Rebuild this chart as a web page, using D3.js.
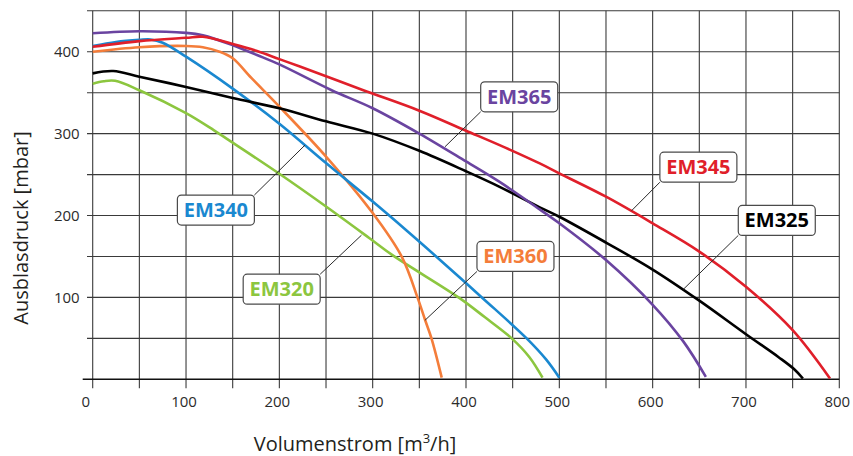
<!DOCTYPE html>
<html><head><meta charset="utf-8">
<script src="https://cdn.jsdelivr.net/npm/d3@7"></script>
<style>
html,body{margin:0;padding:0;background:#fff;}
svg{display:block;font-family:"Open Sans",sans-serif;}
</style></head>
<body><svg id="chart" width="853" height="456"></svg>
<script>
// ---- data ----
const xTicks = [0, 100, 200, 300, 400, 500, 600, 700, 800];
const yTicks = [100, 200, 300, 400];
const seriesNames = ["EM320", "EM360", "EM340", "EM325", "EM365", "EM345"];

const em320 = [[0,361],[12,364],[24,364.5],[50,353],[100,325],[130,304],[150,289],[200,251],[250,211],[297,172],[322,151],[392,100],[420,76],[449,50],[468,27],[482,2]];
const em360 = [[0,400],[50,405.5],[100,407],[118,405.5],[136,400],[150,392],[170,368],[200,333],[250,272],[300,203],[331,150],[348,100],[356,73],[363,50],[374,2]];
const em340 = [[0,407],[25,412],[50,414.5],[62,415],[75,411],[100,394],[150,355],[200,312],[250,264],[300,217],[336,182],[368,150],[417,100],[465,50],[486,24],[500,2]];
const em325 = [[0,373.6],[22,376.4],[50,369.5],[100,357],[150,343.5],[200,331],[250,315],[300,300],[350,279],[400,254],[436,235],[479,210],[500,198.5],[550,167],[600,134],[650,96],[700,55],[735,27],[752,12],[761,1]];
const em365 = [[0,422.5],[50,425],[100,423],[118,420],[150,408],[176,396],[200,384.5],[256,353],[300,331],[350,300],[400,266],[436,241],[479,207.5],[500,190.5],[550,145.6],[600,91],[633,46],[657,3]];
const em345 = [[0,406],[50,413],[100,417],[118,418.3],[150,409.5],[176,401],[200,391],[222,382],[290,353],[350,328],[400,303.6],[436,286],[479,263.6],[500,251.5],[550,223],[600,190.5],[650,156],[700,113],[750,60],[790,1]];

const seriesData = {EM320: em320, EM360: em360, EM340: em340, EM325: em325, EM365: em365, EM345: em345};

// ---- styles & layout ----
const colors = {EM320:"#8cc63f", EM360:"#f47d3a", EM340:"#1a88d0", EM325:"#000000", EM365:"#6a44a0", EM345:"#e01f2a"};
// label boxes: centre and leader target in data units, leader corner of box
const labelLayout = [
  {name:"EM345", cx:649, cy:259, tx:577.5, ty:206, corner:"bl"},
  {name:"EM325", cx:733, cy:194, tx:633, ty:110, corner:"bl"},
  {name:"EM365", cx:457, cy:345, tx:377.5, ty:284, corner:"bl"},
  {name:"EM340", cx:132, cy:206.7, tx:227.5, ty:286, corner:"tr"},
  {name:"EM320", cx:202.5, cy:110, tx:288, ty:176, corner:"tr"},
  {name:"EM360", cx:453, cy:150, tx:356, ty:72, corner:"bl"}
];

const W = 853, H = 456;
const m = {left:92.7, right:13.7, top:10.8, bottom:76.7};
const svg = d3.select("#chart");
const x = d3.scaleLinear().domain([0,800]).range([m.left, W - m.right]);
const y = d3.scaleLinear().domain([0,450]).range([H - m.bottom, m.top]);

const grid = svg.append("g");
const gridColor = "#3a3a3a";
// vertical grid lines every 50, with tick below the axis
d3.range(0, 801, 50).forEach(v => {
  grid.append("line").attr("x1", x(v)).attr("x2", x(v))
    .attr("y1", y(450)).attr("y2", y(0) + 9)
    .attr("stroke", gridColor).attr("stroke-width", 1.1);
});
// horizontal grid lines every 50, with tick left of the axis
d3.range(50, 451, 50).forEach(v => {
  grid.append("line").attr("x1", x(0) - 5.7).attr("x2", x(800))
    .attr("y1", y(v)).attr("y2", y(v))
    .attr("stroke", gridColor).attr("stroke-width", 1.1);
});
// x axis base line
grid.append("line").attr("x1", x(0) - 10).attr("x2", x(800))
  .attr("y1", y(0)).attr("y2", y(0)).attr("stroke", "#111").attr("stroke-width", 1.4);

// tick labels
svg.append("g").selectAll("text").data(xTicks).join("text")
  .attr("x", d => x(d) - (d === 0 ? 7 : 2)).attr("y", y(0) + 28)
  .attr("text-anchor", "middle").attr("font-size", 15).attr("fill", "#2b2b2b")
  .text(d => d);
svg.append("g").selectAll("text").data(yTicks).join("text")
  .attr("x", x(0) - 13).attr("y", d => y(d) + 5.3)
  .attr("text-anchor", "end").attr("font-size", 15).attr("fill", "#2b2b2b")
  .text(d => d);

// axis titles
const xt = svg.append("text").attr("x", 355).attr("y", 451)
  .attr("text-anchor", "middle").attr("font-size", 20).attr("fill", "#231f20");
xt.append("tspan").text("Volumenstrom [m");
xt.append("tspan").attr("font-size", 13).attr("dy", -8).text("3");
xt.append("tspan").attr("dy", 8).text("/h]");

svg.append("text").attr("transform", "translate(28,228) rotate(-90)")
  .attr("text-anchor", "middle").attr("font-size", 20).attr("fill", "#231f20")
  .text("Ausblasdruck [mbar]");

// curves
const line = d3.line().x(d => x(d[0])).y(d => y(d[1])).curve(d3.curveCatmullRom.alpha(0.5));
svg.append("g").selectAll("path").data(seriesNames).join("path")
  .attr("d", n => line(seriesData[n]))
  .attr("fill", "none").attr("stroke", n => colors[n])
  .attr("stroke-width", 2.6).attr("stroke-linejoin", "round").attr("stroke-linecap", "butt");

// labels
const lg = svg.append("g");
labelLayout.forEach(L => {
  const g = lg.append("g");
  g.append("text").attr("x", x(L.cx)).attr("y", y(L.cy) + 7)
    .attr("text-anchor", "middle").attr("font-size", 20).attr("font-weight", "bold")
    .attr("fill", colors[L.name]).text(L.name);
  const bw = 77, bh = 30;
  const bx = x(L.cx) - bw/2, by = y(L.cy) - bh/2;
  const cxp = L.corner[1] === "l" ? bx : bx + bw;
  const cyp = L.corner[0] === "b" ? by + bh : by;
  g.insert("line", "text").attr("x1", cxp).attr("y1", cyp)
    .attr("x2", x(L.tx)).attr("y2", y(L.ty))
    .attr("stroke", "#2a2a2a").attr("stroke-width", 1);
  g.insert("rect", "text").attr("x", bx).attr("y", by).attr("width", bw).attr("height", bh)
    .attr("rx", 4).attr("fill", "#fff").attr("stroke", "#4a4a4a").attr("stroke-width", 1.2);
});
</script></body></html>
